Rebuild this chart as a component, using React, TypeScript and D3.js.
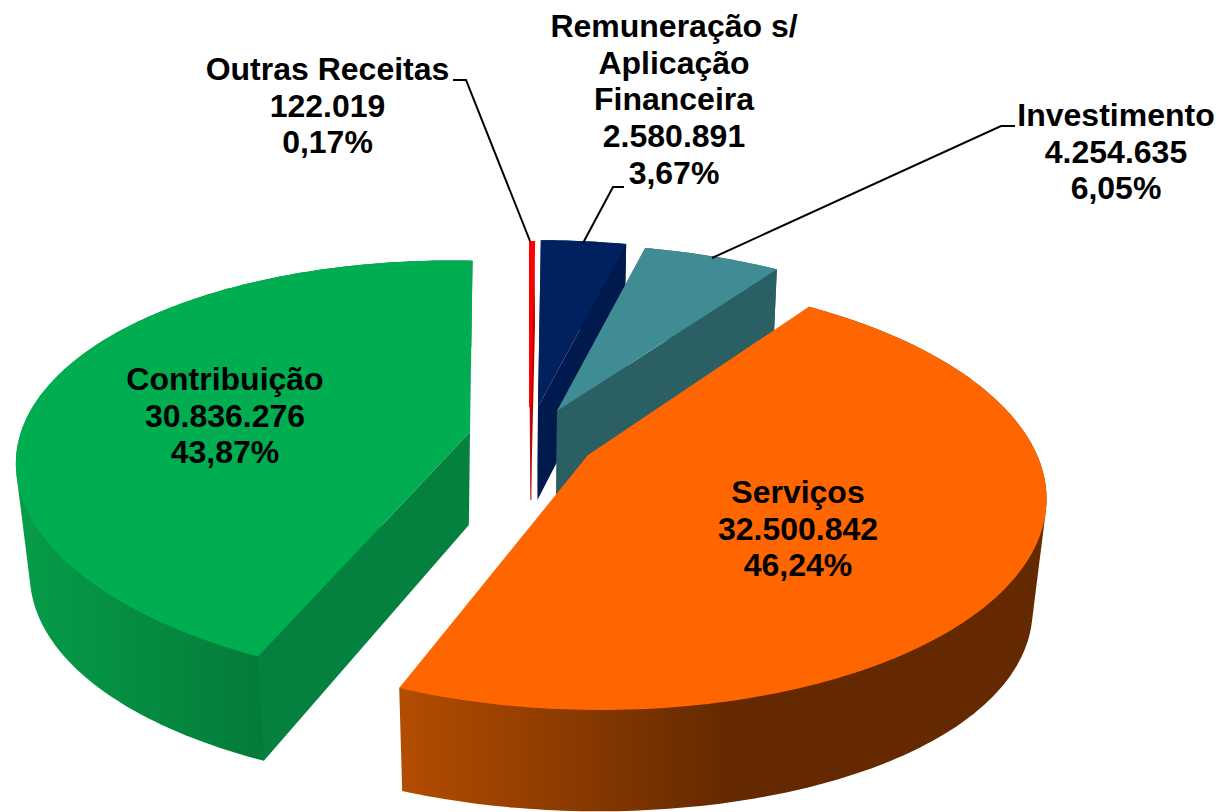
import React from "react";
import * as d3 from "d3";

const categories = ["Outras Receitas", "Remuneração s/ Aplicação Financeira", "Investimento", "Serviços", "Contribuição"];
const values = [122019, 2580891, 4254635, 32500842, 30836276];
const valueLabels = ["122.019", "2.580.891", "4.254.635", "32.500.842", "30.836.276"];
const percentLabels = ["0,17%", "3,67%", "6,05%", "46,24%", "43,87%"];
const nameLines = [["Outras Receitas"], ["Remuneração s/", "Aplicação", "Financeira"], ["Investimento"], ["Serviços"], ["Contribuição"]];

const topColors = ["#ff0000", "#002060", "#3f8c95", "#ff6600", "#00ad50"];
const cutColors = ["#c00000", "#001a4e", "#2a5f64", "#a84800", "#05813f"];
const wallStops = [
  ["#d00000", "#d00000"],
  ["#001a4e", "#001a4e"],
  ["#2a5f64", "#2a5f64"],
  ["#b34d00", "#642900"],
  ["#069d4a", "#037b39"],
];
const wallX1 = [0, 0, 0, 400, 14];
const wallX2 = [1, 1, 1, 730, 262];
const apexX = [530, 538, 557, 588, 470];
const apexY = [407, 407, 411, 455, 432];
const rotStart = [0, -0.2, -0.5, 0, 3.4];
const rotEnd = [0, -0.5, -1.4, -0.25, 3];
const scaleX = [1, 1, 1, 1, 1];
const scaleY = [0.95, 0.96, 0.96, 1.02, 1];
const perspective = [0.18, 0.18, 0.18, 0.18, 0.195];
const lean = [0, 0, 0, 0.05, 0.1];
const vanishX = [560, 500, 500, 514, 435];
const converge = [0.03, 0.015, 0.015, 0.026, 0.033];
const showCuts = [[true, true], [true, true], [true, true], [false, false], [true, false]];
const labelX = [327.5, 674, 1116, 798, 225];
const labelTop = [80, 37, 126, 503, 390];
const leaders = [
  [[453, 80], [466, 80], [530, 241]],
  [[624, 187], [613, 187], [583, 243]],
  [[1015, 126], [1001, 126], [712, 258]],
];
const drawOrder = [0, 1, 2, 4, 3];

const R = 449, S = 205, D = 93, DEPTH_POW = 0.43, DEPTH_SIDE = 0.17, LINE_GAP = 36.7;
const pieGen = d3.pie<number>().sort(null).startAngle(0).endAngle(2 * Math.PI);
const arcs = pieGen(values);

function project(i: number, a: number, r: number, z: number): [number, number] {
  const f = (a - arcs[i].startAngle) / (arcs[i].endAngle - arcs[i].startAngle);
  const t = a + ((rotStart[i] + (rotEnd[i] - rotStart[i]) * f) * Math.PI) / 180;
  const u = r * Math.sin(t), v = r * Math.cos(t);
  const w = 1 + perspective[i] * v;
  const dy = -(S * scaleY[i] * v) / w;
  let x = apexX[i] + (R * scaleX[i] * u) / w + lean[i] * dy;
  const y = apexY[i] + dy + (D * z * (1 + DEPTH_SIDE * u * u)) / Math.pow(w, DEPTH_POW);
  x += (vanishX[i] - x) * converge[i] * z;
  return [x, y];
}
const line = d3.line();
function sample(a0: number, a1: number) {
  const n = Math.max(2, Math.ceil((a1 - a0) * 60));
  return d3.range(n + 1).map((k) => a0 + ((a1 - a0) * k) / n);
}

export default function App() {
  return (
    <svg width={1219} height={812} style={{ position: "absolute", left: 0, top: 0, background: "#fff" }}>
      <defs>
        {wallStops.map((s, i) => (
          <linearGradient key={i} id={`wall${i}`} gradientUnits="userSpaceOnUse" x1={wallX1[i]} x2={wallX2[i]} y1={0} y2={0}>
            <stop offset="0" stopColor={s[0]} />
            <stop offset="1" stopColor={s[1]} />
          </linearGradient>
        ))}
      </defs>
      {drawOrder.map((i) => {
        const { startAngle: a0, endAngle: a1 } = arcs[i];
        const as = sample(a0, a1);
        const top = as.map((a) => project(i, a, 1, 0));
        const bottom = as.map((a) => project(i, a, 1, 1));
        const hull = d3.polygonHull([...top, ...bottom])!;
        const cut = (a: number) => [project(i, a, 0, 0), project(i, a, 1, 0), project(i, a, 1, 1), project(i, a, 0, 1)] as [number, number][];
        const thin = i === 0;
        return (
          <g key={categories[i]}>
            <path d={line(hull)! + "Z"} fill={`url(#wall${i})`} />
            {showCuts[i][0] && (
              <path d={line(cut(a0))! + "Z"} fill={cutColors[i]} stroke={thin ? cutColors[i] : "none"} strokeWidth={thin ? 1 : 0} strokeOpacity={0.6} />
            )}
            {showCuts[i][1] && <path d={line(cut(a1))! + "Z"} fill={cutColors[i]} />}
            <path d={line([project(i, a0, 0, 0), ...top])! + "Z"} fill={topColors[i]} stroke={thin ? topColors[i] : "none"} strokeWidth={thin ? 2 : 0} />
          </g>
        );
      })}
      {leaders.map((l, i) => (
        <path key={i} d={line(l as [number, number][])!} fill="none" stroke="#000" strokeWidth={2} />
      ))}
      {categories.map((c, i) => {
        const lines = [...nameLines[i], valueLabels[i], percentLabels[i]];
        return (
          <text key={c} fontFamily="'Liberation Sans', Arial, sans-serif" fontWeight="bold" fontSize={32} textAnchor="middle" fill="#000">
            {lines.map((t, k) => (
              <tspan key={k} x={labelX[i]} y={labelTop[i] + k * LINE_GAP}>{t}</tspan>
            ))}
          </text>
        );
      })}
    </svg>
  );
}
